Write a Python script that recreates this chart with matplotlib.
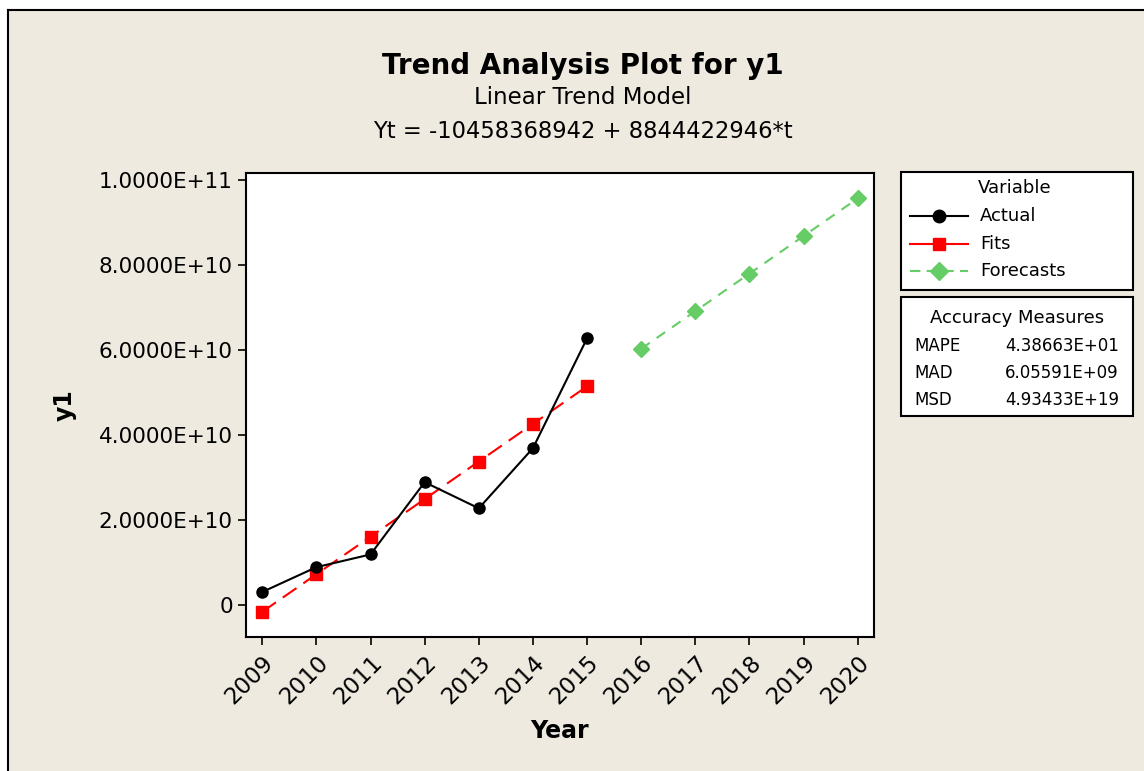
import matplotlib
matplotlib.use("Agg")
import matplotlib.pyplot as plt
from matplotlib.lines import Line2D
import numpy as np

years_actual = [2009, 2010, 2011, 2012, 2013, 2014, 2015]
actual = [3.06e9, 8.9e9, 11.9e9, 28.9e9, 22.75e9, 36.9e9, 62.75e9]
fits = [-1.614e9, 7.230e9, 16.075e9, 24.919e9, 33.764e9, 42.608e9, 51.453e9]
years_forecast = [2016, 2017, 2018, 2019, 2020]
forecasts = [60.297e9, 69.141e9, 77.986e9, 86.830e9, 95.674e9]
yticks = [0, 2e10, 4e10, 6e10, 8e10, 1e11]
ytick_labels = ["0", "2.0000E+10", "4.0000E+10", "6.0000E+10", "8.0000E+10", "1.0000E+11"]
xticks = list(range(2009, 2021))
measures = ["MAPE", "MAD", "MSD"]
measure_values = ["4.38663E+01", "6.05591E+09", "4.93433E+19"]

BG = "#EEEAE0"
GREEN = "#66CC66"
FONT = "DejaVu Sans"
plt.rcParams["font.family"] = FONT

W, H = 1144, 771
fig = plt.figure(figsize=(W / 100, H / 100), dpi=100, facecolor="white")

# beige panel with border (top & left visible)
fig.patches.append(plt.Rectangle((8 / W, 0), 1 - 8 / W, 1 - 10 / H, transform=fig.transFigure,
                                 facecolor=BG, edgecolor="none", zorder=-10))
fig.add_artist(Line2D([8 / W, 1], [1 - 10 / H, 1 - 10 / H], transform=fig.transFigure, color="black", lw=1.5))
fig.add_artist(Line2D([8 / W, 8 / W], [0, 1 - 10 / H], transform=fig.transFigure, color="black", lw=1.5))

ax_l, ax_r, ax_t, ax_b = 246, 874, 173, 637
ax = fig.add_axes([ax_l / W, 1 - ax_b / H, (ax_r - ax_l) / W, (ax_b - ax_t) / H])
ax.set_facecolor("white")

ax.plot(years_actual, actual, color="black", lw=1.5, marker="o", ms=8, label="Actual", zorder=3)
ax.plot(years_actual, fits, color="red", lw=1.5, dashes=(8, 4), marker="s", ms=8, label="Fits", zorder=2)
ax.plot(years_forecast, forecasts, color=GREEN, lw=1.5, dashes=(5, 4), marker="D", ms=8, label="Forecasts", zorder=2)

ax.set_xlim(2008.7, 2020.3)
ax.set_ylim(-7.53e9, 1.0165e11)
ax.set_yticks(yticks)
ax.set_yticklabels(ytick_labels, fontsize=15.5)
ax.set_xticks(xticks)
ax.set_xticklabels([str(x) for x in xticks], fontsize=16.5, rotation=45, ha="right", rotation_mode="anchor")
ax.tick_params(direction="out", length=6, width=1.2, colors="black")
ax.tick_params(axis="x", pad=4)
for s in ax.spines.values():
    s.set_linewidth(1.5)

ax.set_xlabel("Year", fontsize=17, fontweight="bold", labelpad=8)
ax.set_ylabel("y1", fontsize=17, fontweight="bold", labelpad=16)

fig.text(583 / W, 1 - 66 / H, "Trend Analysis Plot for y1", ha="center", va="center", fontsize=20, fontweight="bold")
fig.text(583 / W, 1 - 98 / H, "Linear Trend Model", ha="center", va="center", fontsize=16.5)
fig.text(583 / W, 1 - 132 / H, "Yt = -10458368942 + 8844422946*t", ha="center", va="center", fontsize=16.3)

# Legend box
lx0, lx1, ly0, ly1 = 901, 1133, 172, 290
fig.patches.append(plt.Rectangle((lx0 / W, 1 - ly1 / H), (lx1 - lx0) / W, (ly1 - ly0) / H,
                                 transform=fig.transFigure, facecolor="white", edgecolor="black", lw=1.5))
fig.text(1015 / W, 1 - 188 / H, "Variable", ha="center", va="center", fontsize=13)
entries = [("Actual", "black", "o", "-", 216), ("Fits", "red", "s", "-", 244), ("Forecasts", GREEN, "D", "--", 271)]
for name, col, mk, ls, yy in entries:
    yf = 1 - yy / H
    fig.add_artist(Line2D([910 / W, 968 / W], [yf, yf], transform=fig.transFigure, color=col, lw=1.5,
                          linestyle=ls, dashes=(5, 3) if ls == "--" else (None, None)))
    fig.add_artist(Line2D([939 / W], [yf], transform=fig.transFigure, color=col, marker=mk, ms=9, lw=0))
    fig.text(980 / W, yf, name, ha="left", va="center", fontsize=13)

# Accuracy box
ax0, ax1_, ay0, ay1 = 901, 1133, 297, 416
fig.patches.append(plt.Rectangle((ax0 / W, 1 - ay1 / H), (ax1_ - ax0) / W, (ay1 - ay0) / H,
                                 transform=fig.transFigure, facecolor="white", edgecolor="black", lw=1.5))
fig.text(1017 / W, 1 - 318 / H, "Accuracy Measures", ha="center", va="center", fontsize=13)
for i, (m, v) in enumerate(zip(measures, measure_values)):
    yf = 1 - (346 + i * 27) / H
    fig.text(914 / W, yf, m, ha="left", va="center", fontsize=12)
    fig.text(1119 / W, yf, v, ha="right", va="center", fontsize=12)

fig.savefig("out.png", dpi=100, facecolor="white")
